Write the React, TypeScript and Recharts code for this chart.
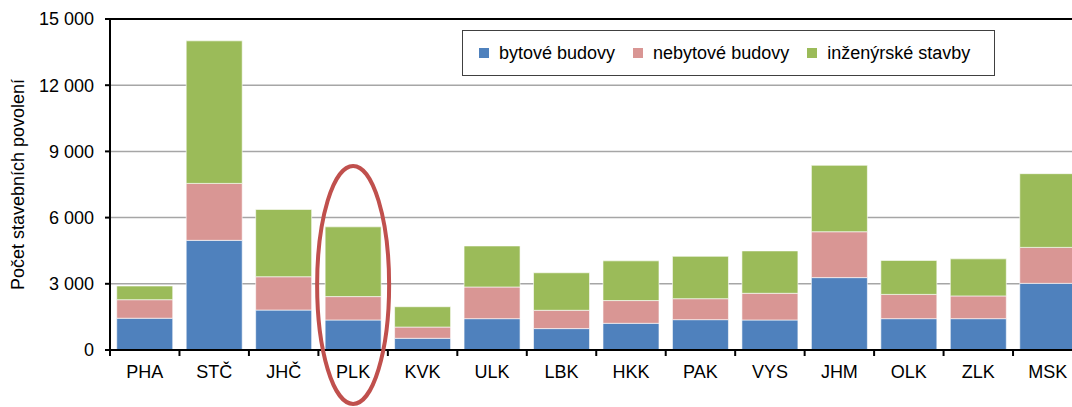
import {
  Bar,
  BarChart,
  CartesianGrid,
  Legend,
  ReferenceDot,
  ReferenceLine,
  XAxis,
  YAxis,
} from 'recharts'

const categories = ['PHA', 'STČ', 'JHČ', 'PLK', 'KVK', 'ULK', 'LBK', 'HKK', 'PAK', 'VYS', 'JHM', 'OLK', 'ZLK', 'MSK']
const bytove = [1440, 4970, 1810, 1360, 530, 1420, 970, 1210, 1375, 1360, 3280, 1420, 1420, 3020]
const nebytove = [840, 2580, 1510, 1060, 510, 1435, 830, 1030, 950, 1210, 2080, 1100, 1030, 1630]
const inzenyrske = [620, 6460, 3050, 3160, 920, 1860, 1700, 1800, 1920, 1920, 3010, 1540, 1680, 3340]
const yTicks = [0, 3000, 6000, 9000, 12000, 15000]

const seriesNames = ['bytové budovy', 'nebytové budovy', 'inženýrské stavby']
const COLORS = ['#4F81BD', '#D99694', '#9BBB59']

const FONT = '"Liberation Sans", Arial, sans-serif'
const X_TICK_MARGIN = 15

const data = categories.map((name, i) => ({
  name,
  bytove: bytove[i],
  nebytove: nebytove[i],
  inzenyrske: inzenyrske[i],
}))

function formatThousands(v: number) {
  return String(v).replace(/\B(?=(\d{3})+(?!\d))/g, ' ')
}

// category label plus Excel-style tick marks on the category boundaries
function CategoryTick(props: {
  x?: number
  y?: number
  width?: number
  index?: number
  payload?: { value: string; offset?: number }
}) {
  const { x = 0, y = 0, width = 0, index = 0, payload } = props
  const half = payload?.offset || width / categories.length / 2
  const axisY = y - X_TICK_MARGIN
  return (
    <g>
      <line x1={x - half} x2={x - half} y1={axisY} y2={axisY + 6} stroke="#000" strokeWidth={2} />
      {index === categories.length - 1 && (
        <line x1={x + half} x2={x + half} y1={axisY} y2={axisY + 6} stroke="#000" strokeWidth={2} />
      )}
      <text x={x} y={y} dy="0.71em" textAnchor="middle" fontSize={18} fill="#000">
        {payload?.value}
      </text>
    </g>
  )
}

function LegendBox() {
  return (
    <div
      style={{
        width: 515,
        height: 44,
        border: '1px solid #404040',
        background: '#fff',
        display: 'flex',
        alignItems: 'center',
        paddingLeft: 16,
        boxSizing: 'content-box',
        fontSize: 18,
        color: '#000',
        fontFamily: FONT,
      }}
    >
      {seriesNames.map((n, i) => (
        <div key={n} style={{ display: 'flex', alignItems: 'center', marginRight: 18 }}>
          <span style={{ width: 10, height: 10, background: COLORS[i], marginRight: 10 }} />
          <span>{n}</span>
        </div>
      ))}
    </div>
  )
}

function AxisTitle({ viewBox }: { viewBox?: { x: number; y: number; width: number; height: number } }) {
  if (!viewBox) return null
  const cx = viewBox.x + 18
  const cy = viewBox.y + viewBox.height / 2
  return (
    <text
      x={cx}
      y={cy}
      transform={`rotate(-90 ${cx} ${cy})`}
      textAnchor="middle"
      dominantBaseline="central"
      fontSize={18}
      fill="#000"
    >
      Počet stavebních povolení
    </text>
  )
}

function Ellipse(props: { cx?: number; cy?: number }) {
  const { cx = 0, cy = 0 } = props
  return <ellipse cx={cx} cy={cy} rx={36} ry={119} fill="none" stroke="#C0504D" strokeWidth={4} />
}

export default function App() {
  return (
    <div
      style={{
        position: 'fixed',
        left: 0,
        top: 0,
        width: 1072,
        height: 407,
        overflow: 'hidden',
        background: '#fff',
        fontFamily: FONT,
      }}
    >
      <BarChart
        width={1092}
        height={407}
        data={data}
        margin={{ top: 19, right: 9.5, left: 0, bottom: 27 }}
        barCategoryGap="9.7%"
      >
        <CartesianGrid vertical={false} stroke="#A6A6A6" strokeWidth={1.5} />
        <XAxis
          dataKey="name"
          height={30}
          axisLine={{ stroke: '#000', strokeWidth: 2 }}
          tickLine={false}
          tickSize={0}
          tickMargin={X_TICK_MARGIN}
          tick={<CategoryTick />}
          interval={0}
        />
        <YAxis
          width={110}
          domain={[0, 15000]}
          ticks={yTicks}
          tickFormatter={formatThousands}
          axisLine={{ stroke: '#000', strokeWidth: 2 }}
          tickLine={{ stroke: '#000', strokeWidth: 2 }}
          tickSize={5}
          tickMargin={11}
          tick={{ fill: '#000', fontSize: 18 }}
          label={<AxisTitle />}
        />
        <ReferenceLine y={15000} stroke="#000" strokeWidth={2} />
        <Legend
          layout="vertical"
          align="center"
          verticalAlign="middle"
          wrapperStyle={{ top: 30, left: 462 }}
          content={() => <LegendBox />}
        />
        <Bar dataKey="bytove" stackId="a" fill={COLORS[0]} stroke="#ffffff" strokeOpacity={0.6} isAnimationActive={false} />
        <Bar dataKey="nebytove" stackId="a" fill={COLORS[1]} stroke="#ffffff" strokeOpacity={0.6} isAnimationActive={false} />
        <Bar dataKey="inzenyrske" stackId="a" fill={COLORS[2]} stroke="#ffffff" strokeOpacity={0.6} isAnimationActive={false} />
        <ReferenceDot x="PLK" y={2950} shape={<Ellipse />} ifOverflow="visible" />
      </BarChart>
    </div>
  )
}
